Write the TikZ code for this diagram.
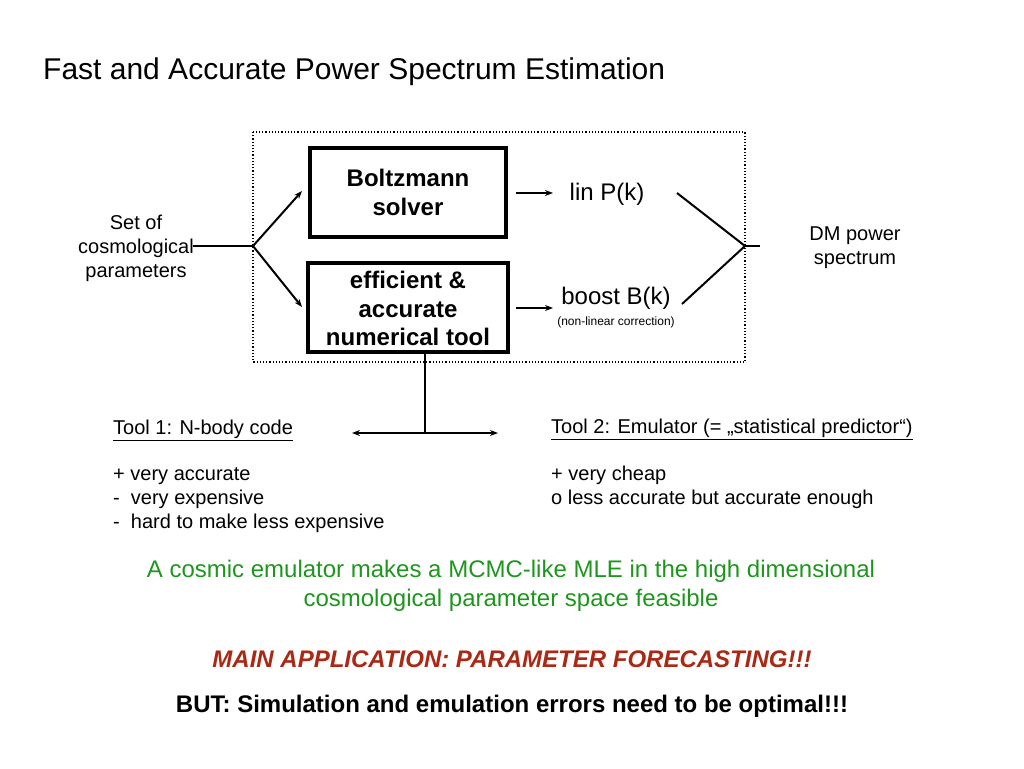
\documentclass[tikz,border=0pt]{standalone}
\usepackage{fontspec}
\setmainfont{Liberation Sans}
\usetikzlibrary{arrows.meta}
\definecolor{grn}{RGB}{30,150,30}
\definecolor{rd}{RGB}{170,40,20}
\begin{document}
\begin{tikzpicture}[x=1pt,y=-1pt,
  box/.style={draw,line width=4pt,inner sep=0pt},
  ln/.style={line width=2pt},
  ar/.style={ln,-{Stealth[length=8pt,width=6pt]}},
  t/.style={inner sep=0pt,align=center},
  f/.style={font=\fontsize{#1}{#1}\selectfont\setlength\baselineskip{1.2\baselineskip}}]
\useasboundingbox (0,0) rectangle (1024,768);
\node[t,anchor=west,f=30] (title) at (43,72) {Fast and Accurate Power Spectrum Estimation};
\draw[dotted,line width=1.2pt] (253,132) rectangle (745,362);
\node[box,minimum width=196,minimum height=89] (b1) at (408,192.5) {};
\node[t,f=24] (b1t) at (b1) {\textbf{Boltzmann}\\\textbf{solver}};
\node[box,minimum width=200,minimum height=89] (b2) at (408,307.5) {};
\node[t,f=24,yshift=-1] (b2t) at (b2) {\textbf{efficient \&}\\\textbf{accurate}\\\textbf{numerical tool}};
\node[t,f=20] (par) at (136,248) {Set of\\cosmological\\parameters};
\coordinate (s0) at (193,246);
\coordinate (s) at (253,246);
\coordinate (a1) at (302,191);
\coordinate (a2) at (302,307);
\draw[ln] (s0) -- (s);
\draw[ar] (s) -- (a1);
\draw[ar] (s) -- (a2);
\node[t,f=24] (lin) at (607,194) {lin P(k)};
\node[t,f=24] (boost) at (616,298) {boost B(k)};
\node[t,f=12] (nl) at (616,322) {(non-linear correction)};
\coordinate (c1) at (516,193); \coordinate (c2) at (553,193);
\coordinate (c3) at (516,308); \coordinate (c4) at (553,308);
\draw[ar] (c1) -- (c2);
\draw[ar] (c3) -- (c4);
\coordinate (r1) at (677,193); \coordinate (r2) at (682,304);
\coordinate (r) at (745,246); \coordinate (r3) at (760,246);
\draw[ln] (r1) -- (r) -- (r2);
\draw[ln] (r) -- (r3);
\node[t,f=20] (dm) at (855,248) {DM power\\spectrum};
\coordinate (v) at (425,433);
\coordinate (hl) at (352,433); \coordinate (hr) at (498,433);
\draw[ln] (b2.south -| v) -- (v);
\draw[ar] (v) -- (hl);
\draw[ar] (v) -- (hr);
\node[t,anchor=west,f=20] (t1) at (113,430) {\underline{Tool 1: N-body code}};
\node[t,anchor=west,f=20] (t2) at (551,429) {\underline{Tool 2: Emulator (= „statistical predictor“)}};
\node[t,anchor=north west,f=20,align=left] (l1) at (113,467) {+ very accurate\\- \ very expensive\\- \ hard to make less expensive};
\node[t,anchor=north west,f=20,align=left] (l2) at (551,466) {+ very cheap\\o less accurate but accurate enough};
\node[t,f=24,text=grn] (g) at (511,586) {A cosmic emulator makes a MCMC-like MLE in the high dimensional\\cosmological parameter space feasible};
\node[t,f=24,text=rd] (m) at (512,659) {\textbf{\textit{MAIN APPLICATION: PARAMETER FORECASTING!!!}}};
\node[t,f=24] (but) at (512,706) {\textbf{BUT: Simulation and emulation errors need to be optimal!!!}};
\end{tikzpicture}
\end{document}
